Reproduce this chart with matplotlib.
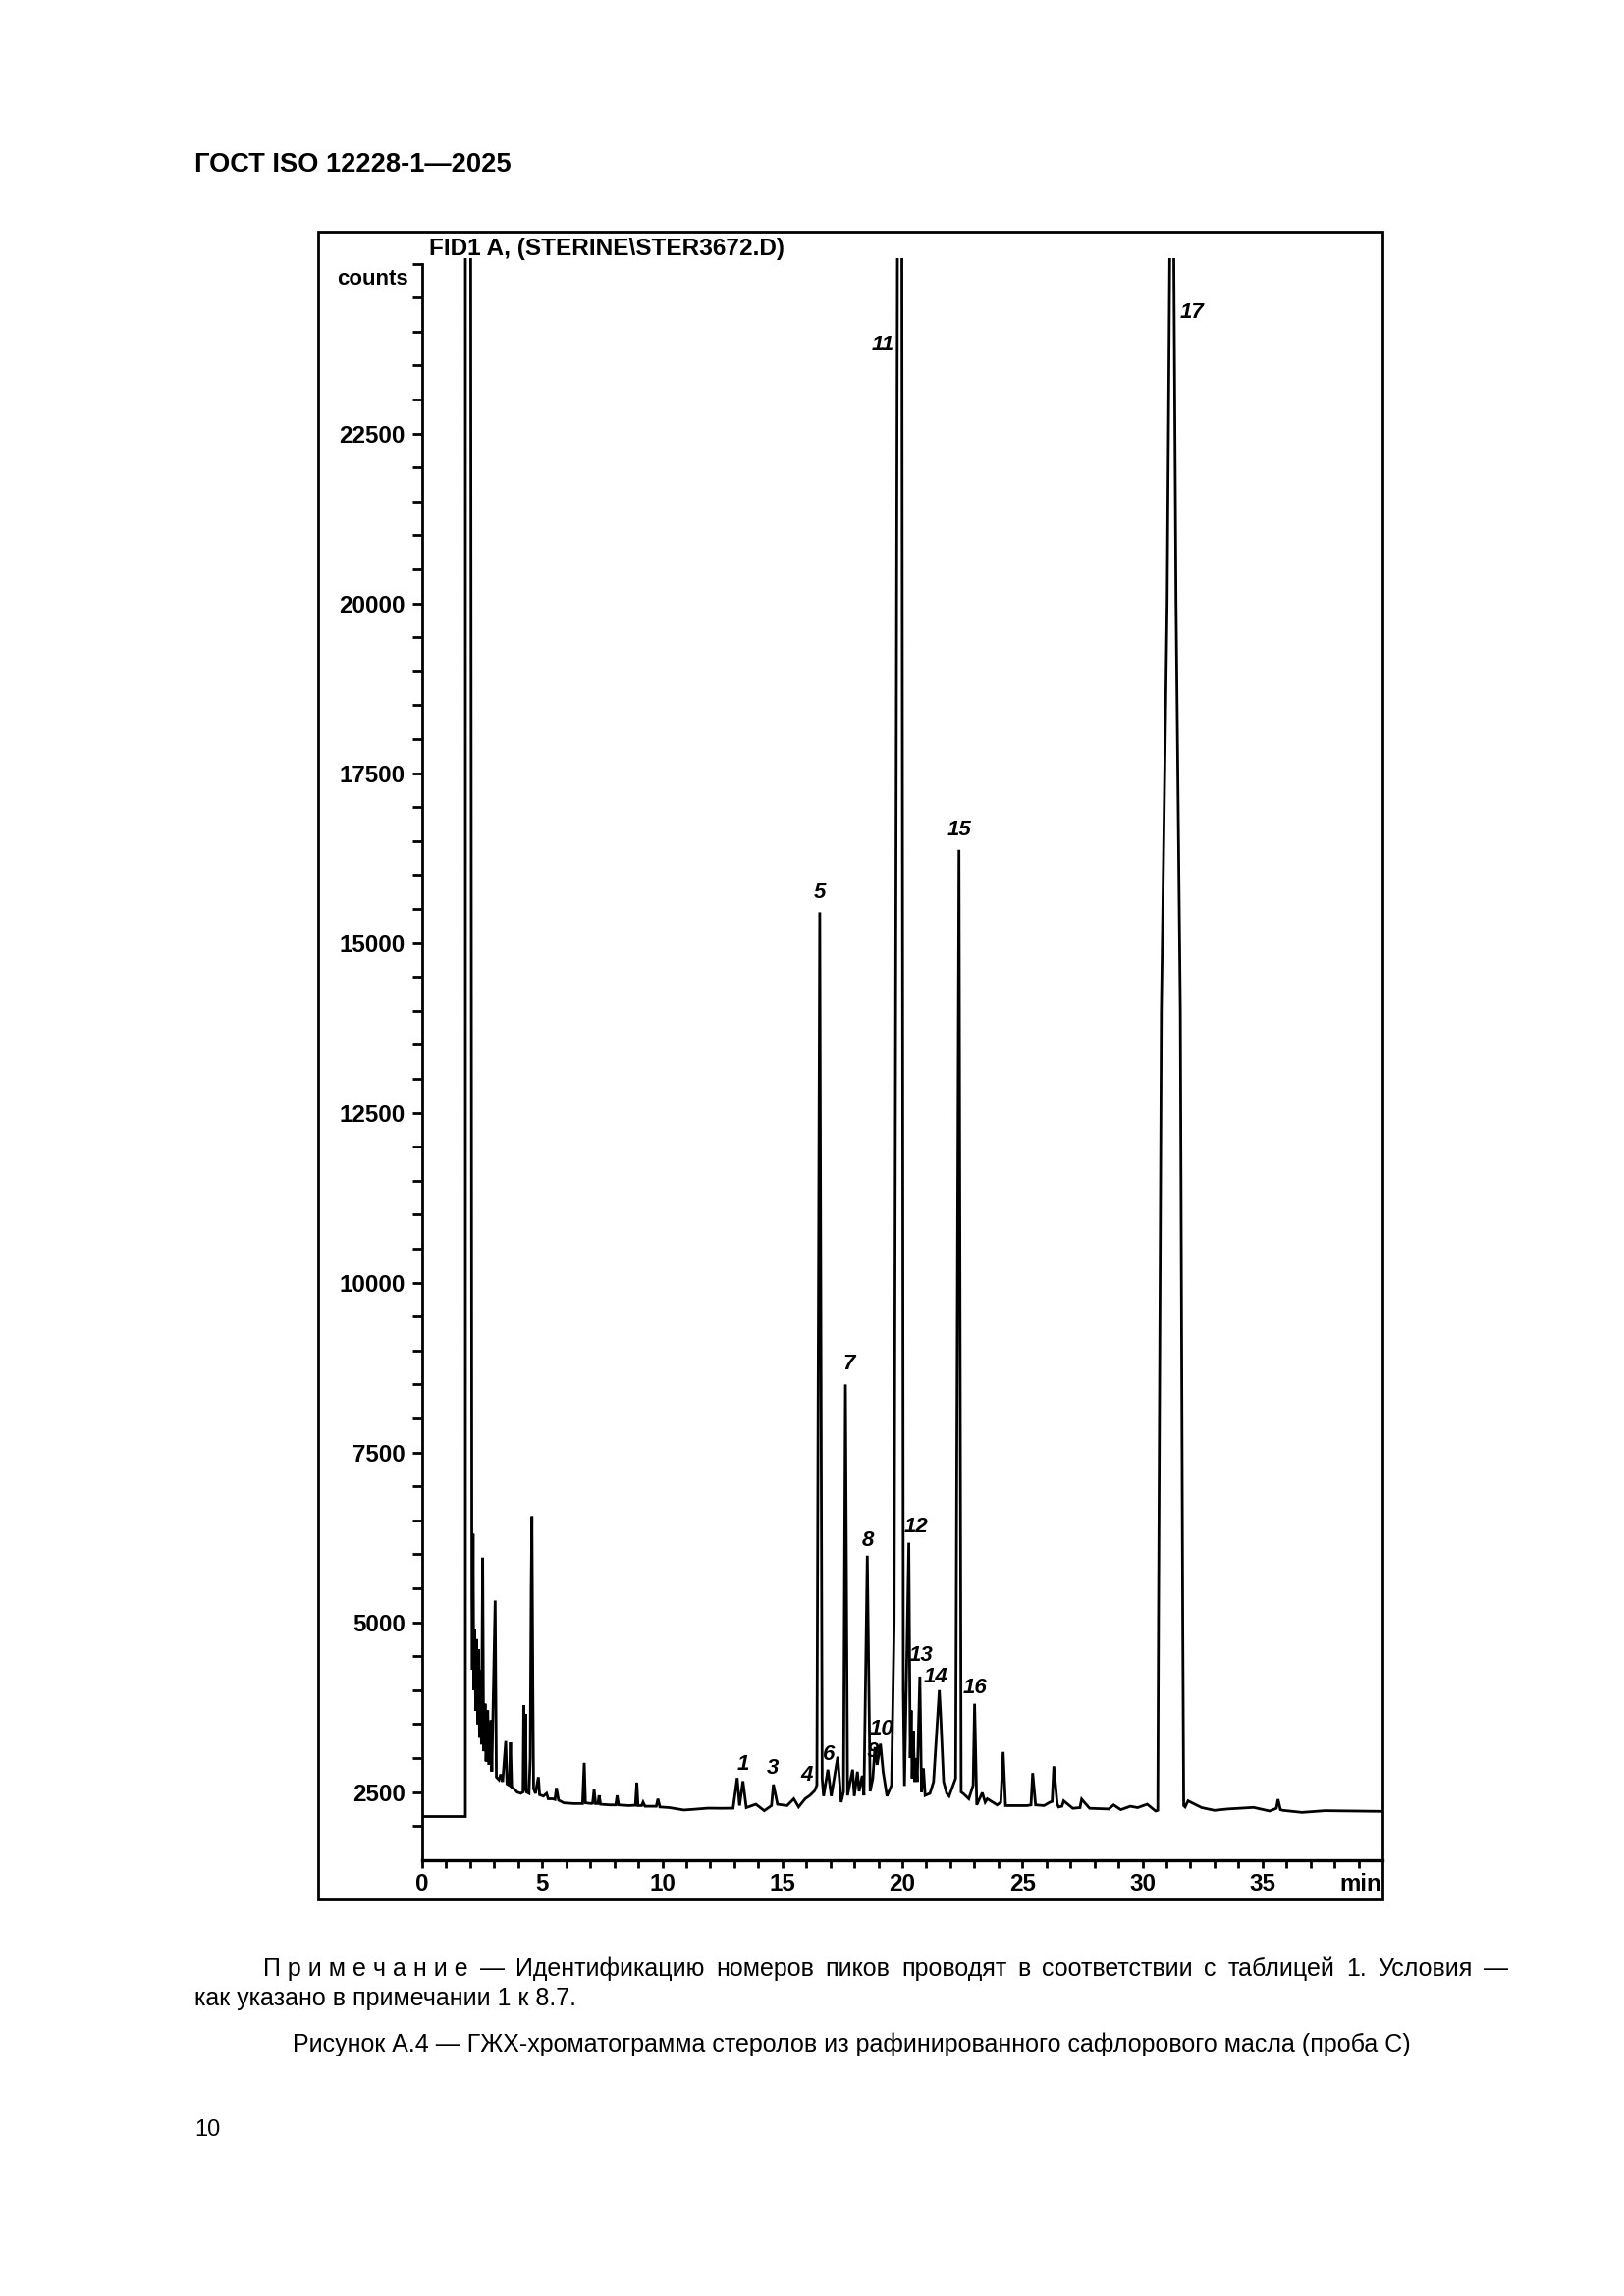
import matplotlib
matplotlib.use("Agg")
import matplotlib.pyplot as plt
from matplotlib.patches import Rectangle
from matplotlib.ticker import FixedLocator

plt.rcParams['font.family'] = ['Liberation Sans', 'DejaVu Sans']

# ---- chromatogram trace (retention time in min, counts) ----
# solvent front and early tail
early_rt = [0.0, 1.80, 1.80, 2.02, 2.07, 2.09, 2.12, 2.15, 2.19, 2.23, 2.27, 2.31, 2.35,
            2.39, 2.43, 2.47, 2.52, 2.56, 2.62, 2.66, 2.73, 2.77, 2.86, 2.90, 3.04, 3.09,
            3.20, 3.27, 3.35, 3.48, 3.53, 3.62, 3.68, 3.73, 3.85, 3.95, 4.10, 4.20, 4.23,
            4.26, 4.30, 4.34, 4.45, 4.50, 4.54, 4.57, 4.61, 4.64, 4.72, 4.84, 4.89, 5.05,
            5.18, 5.25, 5.45, 5.53, 5.59, 5.68, 5.90, 6.30, 6.68, 6.75, 6.80, 7.05, 7.10,
            7.16, 7.22, 7.32, 7.37, 7.43, 7.80, 8.06, 8.12, 8.18, 8.60, 8.88, 8.94, 8.99,
            9.14, 9.20, 9.28, 9.75, 9.82, 9.90, 10.3, 10.9, 11.3, 11.9]
early_counts = [2140, 2140, 25600, 25600, 5400, 4300, 6300, 4000, 4900, 3700, 4750, 3500, 4600,
                3300, 4300, 3200, 5950, 3100, 3800, 2950, 3700, 2900, 3560, 2800, 5320, 2720,
                2680, 2760, 2650, 3250, 2620, 2600, 3230, 2570, 2540, 2500, 2480, 2500, 3780,
                2520, 3650, 2500, 2480, 3000, 5500, 6560, 4000, 2550, 2480, 2720, 2460, 2440,
                2480, 2400, 2400, 2390, 2560, 2380, 2340, 2330, 2330, 2930, 2340, 2330, 2335,
                2540, 2330, 2330, 2450, 2320, 2310, 2310, 2450, 2310, 2300, 2305, 2640, 2300,
                2300, 2350, 2290, 2290, 2400, 2280, 2270, 2235, 2245, 2262]

# sterol region (peaks 1-16)
sterol_rt = [12.5, 12.95, 13.12, 13.22, 13.36, 13.50, 13.90, 14.25, 14.55, 14.63, 14.80, 15.20,
             15.48, 15.68, 15.95, 16.15, 16.35, 16.44, 16.56, 16.66, 16.72, 16.90, 17.04, 17.31,
             17.45, 17.55, 17.63, 17.72, 17.93, 18.00, 18.13, 18.20, 18.33, 18.40, 18.54, 18.66,
             18.77, 18.86, 18.95, 19.09, 19.20, 19.36, 19.55, 19.66, 19.80, 19.98, 20.04, 20.09,
             20.27, 20.33, 20.37, 20.41, 20.46, 20.51, 20.56, 20.62, 20.73, 20.80, 20.88, 20.95,
             21.15, 21.30, 21.45, 21.54, 21.60, 21.72, 21.85, 21.95, 22.22, 22.36, 22.45, 22.56,
             22.77, 22.95, 23.01, 23.10, 23.33, 23.45, 23.54, 23.95, 24.10, 24.20, 24.30, 25.2]
sterol_counts = [2260, 2262, 2707, 2300, 2660, 2270, 2320, 2225, 2300, 2611, 2320, 2300,
                 2400, 2280, 2400, 2450, 2520, 2600, 15450, 2700, 2440, 2830, 2440, 3020,
                 2350, 2500, 8500, 2450, 2830, 2440, 2800, 2510, 2740, 2450, 5980, 2510,
                 2700, 3160, 2900, 3210, 2800, 2440, 2600, 5000, 25600, 25600, 4000, 2590,
                 6170, 3000, 3700, 2700, 3400, 2650, 3000, 2650, 4200, 2500, 2850, 2450,
                 2480, 2650, 3500, 4000, 3600, 2650, 2480, 2440, 2700, 16370, 2500, 2470,
                 2400, 2600, 3800, 2310, 2490, 2350, 2400, 2310, 2350, 3090, 2300, 2300]

# late region (internal standard, peak 17)
late_rt = [25.36, 25.43, 25.55, 25.90, 26.15, 26.24, 26.31, 26.45, 26.51, 26.65, 26.72, 27.10,
           27.40, 27.47, 27.80, 28.60, 28.80, 29.10, 29.50, 29.80, 30.20, 30.55, 30.64, 30.67,
           30.79, 31.03, 31.15, 31.30, 31.40, 31.58, 31.68, 31.72, 31.78, 31.90, 32.47, 33.00,
           33.55, 34.00, 34.63, 35.30, 35.58, 35.65, 35.75, 35.85, 36.65, 37.60, 38.97, 40.0]
late_counts = [2310, 2780, 2310, 2300, 2350, 2360, 2880, 2330, 2280, 2290, 2370, 2260,
               2270, 2394, 2260, 2250, 2310, 2240, 2290, 2270, 2320, 2220, 2230, 5000,
               14000, 20000, 25600, 25600, 20000, 14000, 5000, 2300, 2280, 2370, 2270, 2230,
               2250, 2260, 2273, 2220, 2260, 2394, 2240, 2230, 2200, 2225, 2220, 2215]

# peak numbers and where they are written
peak_ids = ["1", "3", "4", "5", "6", "7", "8", "9", "10", "11", "12", "13", "14", "15", "16", "17"]
peak_label_rt = [13.36, 14.59, 16.02, 16.56, 16.93, 17.76, 18.57, 18.78, 19.15, 19.19, 20.58,
                 20.79, 21.40, 22.37, 23.04, 32.05]
peak_label_counts = [2900, 2845, 2750, 15735, 3050, 8795, 6200, 3100, 3423, 23800, 6410,
                     4504, 4195, 16660, 4026, 24280]

x_ticks = [0, 5, 10, 15, 20, 25, 30, 35]
y_ticks = [2500, 5000, 7500, 10000, 12500, 15000, 17500, 20000, 22500]

rt = early_rt + sterol_rt + late_rt
counts = early_counts + sterol_counts + late_counts

W, H = 1654, 2339
fig = plt.figure(figsize=(W / 200, H / 200), dpi=200)

ax = fig.add_axes([430 / W, 0.18991, 978 / W, 0.69765])
ax.plot(rt, counts, color='black', lw=1.0, solid_joinstyle='miter')
ax.set_xlim(0, 40)
ax.set_ylim(1500, 25080)

for s in ['top', 'right']:
    ax.spines[s].set_visible(False)
ax.spines['left'].set_bounds(1500, 25000)
ax.spines['left'].set_linewidth(1.0)
ax.spines['bottom'].set_linewidth(1.2)

ax.set_xticks(x_ticks)
ax.set_xticklabels([str(v) for v in x_ticks])
ax.xaxis.set_minor_locator(FixedLocator([v for v in range(1, 40) if v % 5]))
ax.set_yticks(y_ticks)
ax.set_yticklabels([str(v) for v in y_ticks])
ax.yaxis.set_minor_locator(FixedLocator([v for v in range(2000, 25001, 500) if v % 2500 or v == 25000]))
ax.tick_params(axis='x', which='both', direction='out', length=2.9, width=1.0, pad=2,
               labelsize=8.7)
ax.tick_params(axis='y', which='both', direction='out', length=3.6, width=1.0, pad=2.6,
               labelsize=8.7)
for lab in ax.get_xticklabels() + ax.get_yticklabels():
    lab.set_fontweight('bold')

ax.annotate("min", xy=(39.95, 1500), xytext=(0, -4.9), textcoords='offset points',
            ha='right', va='top', fontsize=8.7, fontweight='bold')

for pid, px, py in zip(peak_ids, peak_label_rt, peak_label_counts):
    ax.text(px, py, pid, ha='center', va='center', fontsize=8, fontstyle='italic',
            fontweight='bold')

# frame around the chromatogram and its header
fig.add_artist(Rectangle((324 / W, 1 - 1935 / H), (1408 - 324) / W, (1935 - 236) / H,
                         transform=fig.transFigure, fill=False, lw=1.0, color='black'))
fig.text(437 / W, 1 - 253.5 / H, "FID1 A, (STERINE\\STER3672.D)", ha='left', va='center',
         fontsize=8.8, fontweight='bold')
fig.text(416 / W, 1 - 285 / H, "counts", ha='right', va='center', fontsize=8,
         fontweight='bold')

# page text
fig.text(198 / W, 1 - 168 / H, "ГОСТ ISO 12228-1—2025", ha='left', va='center',
         fontsize=9.8, fontweight='bold')


def justify(words, x0, x1, y, size):
    renderer = fig.canvas.get_renderer()
    texts = [fig.text(0, y, w, fontsize=size, va='baseline', ha='left') for w in words]
    widths = [t.get_window_extent(renderer).width for t in texts]
    gap = ((x1 - x0) - sum(widths)) / (len(words) - 1)
    x = x0
    for t, w in zip(texts, widths):
        t.set_x(x / W)
        x += w + gap


note_words = ["П р и м е ч а н и е", "—", "Идентификацию", "номеров", "пиков", "проводят", "в",
              "соответствии", "с", "таблицей", "1.", "Условия", "—"]
justify(note_words, 268.5, 1536, 1 - 2013 / H, 9.0)
fig.text(198 / W, 1 - 2043 / H, "как указано в примечании 1 к 8.7.", ha='left', va='baseline',
         fontsize=9.0)
fig.text(867.5 / W, 1 - 2090 / H,
         "Рисунок А.4 — ГЖХ-хроматограмма стеролов из рафинированного сафлорового масла (проба С)",
         ha='center', va='baseline', fontsize=9.0)
fig.text(198 / W, 1 - 2176 / H, "10", ha='left', va='baseline', fontsize=8.5)

fig.savefig("out.png", dpi=200)
